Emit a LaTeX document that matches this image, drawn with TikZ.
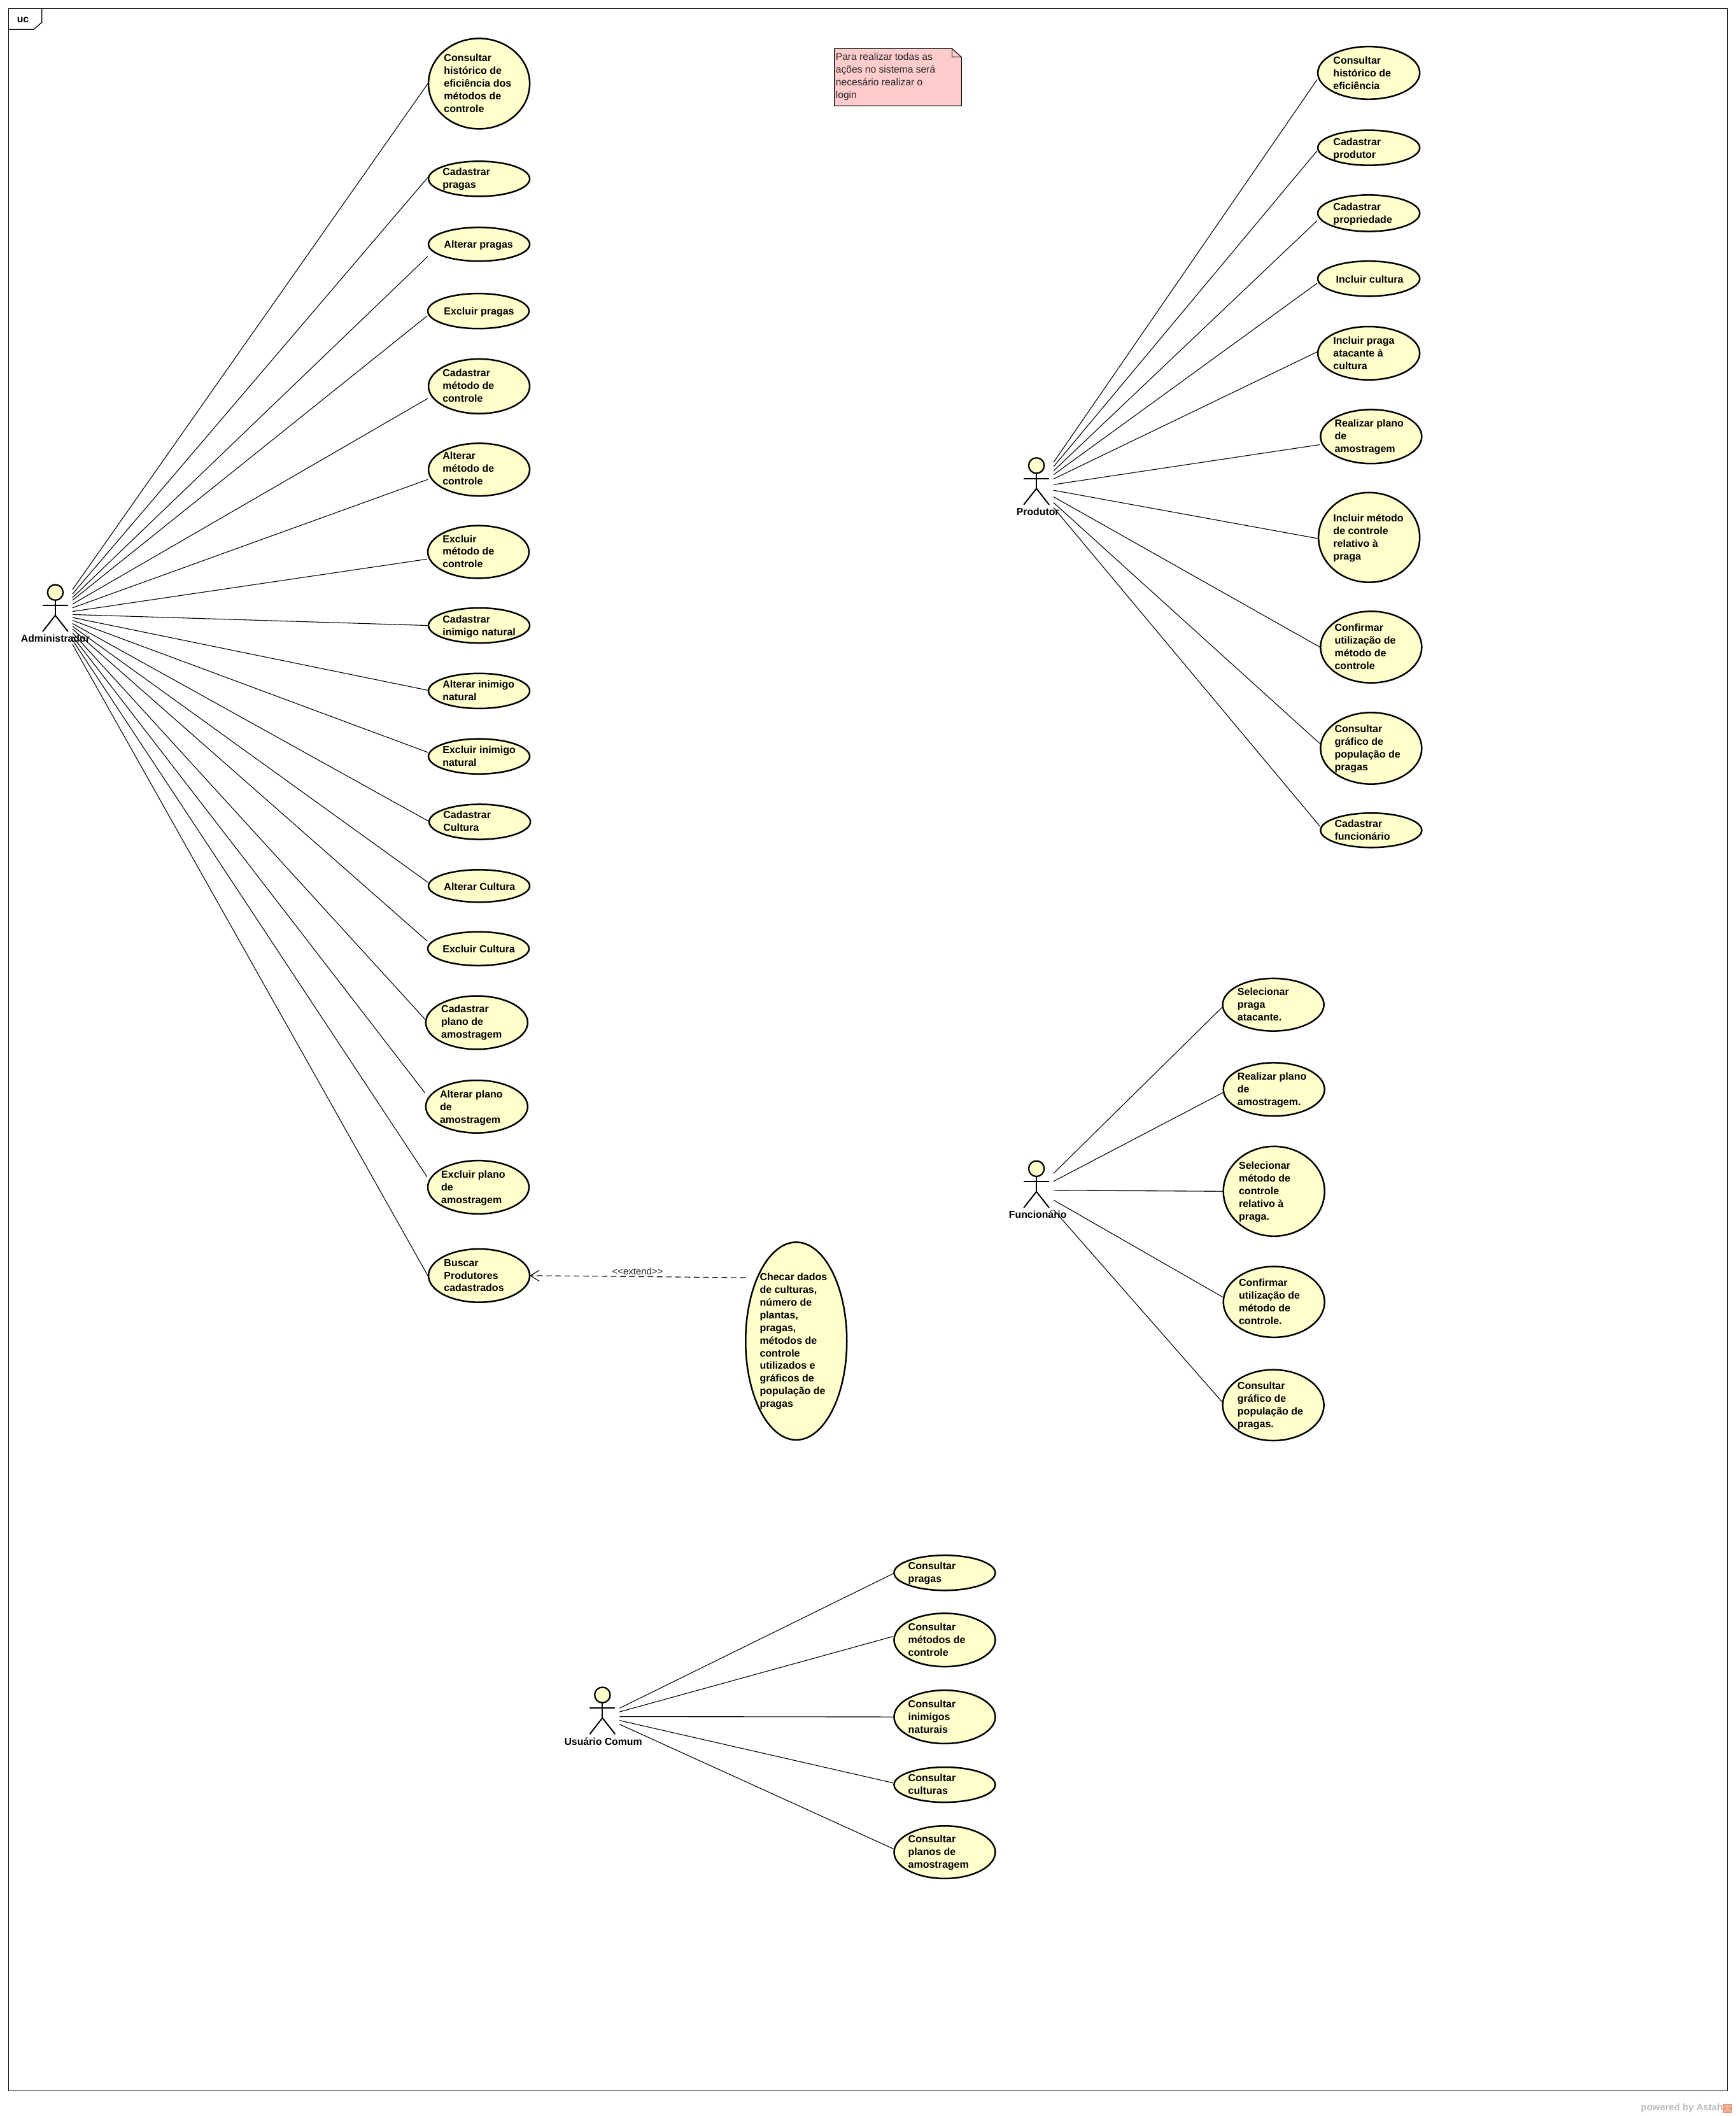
\documentclass[tikz,border=0pt]{standalone}
\usepackage{fontspec}
\setmainfont{Liberation Sans}
\usetikzlibrary{shapes.geometric,calc,arrows.meta}
\definecolor{ucfill}{HTML}{FFFFCC}
\definecolor{notefill}{HTML}{FFCCCC}
\definecolor{wmgray}{HTML}{BDBDBD}
\definecolor{wmicon}{HTML}{EE9A7C}
\tikzset{
  usecase/.style={ellipse,draw=black,fill=ucfill,line width=0.05cm,inner sep=0pt,outer sep=0pt},
  uctext/.style={anchor=west,align=left,inner sep=0pt,outer sep=0pt,text=black,
    font=\fontsize{9.1}{11.35}\selectfont\bfseries,
    execute at begin node={\strut},execute at end node={\strut}},
  actorname/.style={inner sep=0pt,outer sep=0pt,font=\fontsize{9}{11}\selectfont\bfseries},
  actorbox/.style={rectangle,draw=none,fill=none,minimum width=25.4*0.0424cm,minimum height=50*0.0424cm,inner sep=0pt,outer sep=0pt},
  actorhead/.style={circle,draw=black,fill=ucfill,line width=0.045cm,minimum size=11.5*0.0424cm,inner sep=0pt,outer sep=0pt},
  limb/.style={draw=black,line width=0.04cm},
  assoc/.style={draw=black,line width=0.022cm},
  extendline/.style={draw=black,line width=0.022cm,dash pattern=on 0.18cm off 0.11cm},
  notebody/.style={draw=black,fill=notefill,line width=0.022cm},
  notetext/.style={anchor=west,align=left,inner sep=0pt,outer sep=0pt,text=black!85,
    font=\fontsize{8.9}{11.35}\selectfont,execute at begin node={\strut},execute at end node={\strut}},
  frameline/.style={draw=black,line width=0.026cm},
}
% name, x1, x2, y1, y2, text x, text y, text
\newcommand{\ucase}[8]{%
  \node[usecase,minimum width={(#3-#2-1)*0.0424cm},minimum height={(#5-#4-1)*0.0424cm}] (#1) at ({(#2+#3)/2},{(#4+#5)/2}) {};
  \node[uctext] (#1t) at (#6,{#7+1}) {#8};
}
% name, centre x, head y, label x, label y, label
\newcommand{\ucactor}[6]{%
  \node[actorbox] (#1) at (#2,{#3+16}) {};
  \draw[limb] ({#2-9.4},{#3+9.6}) -- ({#2+9.4},{#3+9.6});
  \draw[limb] (#2,{#3+5}) -- (#2,{#3+17});
  \draw[limb] ({#2-9.4},{#3+29}) -- (#2,{#3+17}) -- ({#2+9.4},{#3+29});
  \node[actorhead] (#1h) at (#2,#3) {};
  \node[actorname] (#1n) at (#4,#5) {#6};
}
\newcommand{\assoclink}[3]{\draw[assoc] (#1) -- ($(#2.west)+(-0.5,#3)$);}
\begin{document}
\begin{tikzpicture}[x=0.0424cm,y=-0.0424cm]
\useasboundingbox (0,0) rectangle (1286,1568);
\fill[white] (0,0) rectangle (1286,1568);
% frame
\draw[frameline] (6.3,6.5) rectangle (1280,1549.3);
\draw[frameline] (6.3,21.8) -- (24.9,21.8) -- (31,16.6) -- (31,6.5);
\node[actorname] (uclabel) at (17,15) {uc};
% note
\draw[notebody] (618.3,36) -- (705.5,36) -- (712.5,42.4) -- (712.5,78.4) -- (618.3,78.4) -- cycle;
\draw[notebody,fill=none] (705.5,36) -- (705.5,42.4) -- (712.5,42.4);
\node[notetext] (note) at (619.3,57.6) {Para realizar todas as\\ações no sistema será\\necesário realizar o\\login};
% Administrador cases
\ucase{a1}{317}{393}{28}{96}{329}{62}{Consultar\\histórico de\\eficiência dos\\métodos de\\controle}
\ucase{a2}{317}{393}{119}{146}{328}{132.5}{Cadastrar\\pragas}
\ucase{a3}{317}{393}{168}{194}{329}{181}{Alterar pragas}
\ucase{a4}{316.5}{392.5}{217}{244}{329}{230.5}{Excluir pragas}
\ucase{a5}{317}{393}{265.5}{307}{328}{286}{Cadastrar\\método de\\controle}
\ucase{a6}{317}{393}{328}{368}{328}{347.5}{Alterar\\método de\\controle}
\ucase{a7}{316.5}{392.5}{389}{429}{328}{409}{Excluir\\método de\\controle}
\ucase{a8}{317}{393}{450}{477}{328}{464}{Cadastrar\\inimigo natural}
\ucase{a9}{317}{393}{498.5}{525.5}{328}{512}{Alterar inimigo\\natural}
\ucase{a10}{317}{393}{547}{574}{328}{560.5}{Excluir inimigo\\natural}
\ucase{a11}{317.5}{393.5}{595.5}{622.5}{328.5}{609}{Cadastrar\\Cultura}
\ucase{a12}{317}{393}{644}{669}{329}{657}{Alterar Cultura}
\ucase{a13}{316.5}{392.5}{690}{716}{328}{703}{Excluir Cultura}
\ucase{a14}{315}{391.5}{737.5}{778}{327}{757.5}{Cadastrar\\plano de\\amostragem}
\ucase{a15}{315}{391.5}{800}{840}{326}{820.5}{Alterar plano\\de\\amostragem}
\ucase{a16}{316.5}{392.5}{859.5}{900}{327}{880}{Excluir plano\\de\\amostragem}
\ucase{a17}{317}{393}{925}{965.5}{329}{945.5}{Buscar\\Produtores\\cadastrados}
\ucase{c}{552}{628}{920}{1067.5}{563}{993.5}{Checar dados\\de culturas,\\número de\\plantas,\\pragas,\\métodos de\\controle\\utilizados e\\gráficos de\\população de\\pragas}
% Produtor cases
\ucase{p1}{976}{1052.5}{34}{74}{988}{54.5}{Consultar\\histórico de\\eficiência}
\ucase{p2}{976}{1052.5}{96}{123}{988}{110}{Cadastrar\\produtor}
\ucase{p3}{976}{1052.5}{144}{172}{988}{158.5}{Cadastrar\\propriedade}
\ucase{p4}{976}{1052.5}{193}{220}{990}{207}{Incluir cultura}
\ucase{p5}{976}{1052.5}{241.5}{282}{988}{262}{Incluir praga\\atacante à\\cultura}
\ucase{p6}{978}{1054}{303}{344}{989}{323.5}{Realizar plano\\de\\amostragem}
\ucase{p7}{976.5}{1052.5}{364.5}{432}{988}{398.5}{Incluir método\\de controle\\relativo à\\praga}
\ucase{p8}{978}{1054}{452.5}{506.5}{989}{479.5}{Confirmar\\utilização de\\método de\\controle}
\ucase{p9}{978}{1054}{527.5}{581.5}{989}{554.5}{Consultar\\gráfico de\\população de\\pragas}
\ucase{p10}{978}{1054}{602}{628.5}{989}{615.5}{Cadastrar\\funcionário}
% Funcionario cases
\ucase{f1}{905.5}{981.5}{724.5}{764.5}{917}{744.5}{Selecionar\\praga\\atacante.}
\ucase{f2}{906}{982}{787}{827.5}{917}{807.5}{Realizar plano\\de\\amostragem.}
\ucase{f3}{906}{982}{849}{916.5}{918}{883}{Selecionar\\método de\\controle\\relativo à\\praga.}
\ucase{f4}{906}{982}{938}{991.5}{918}{965}{Confirmar\\utilização de\\método de\\controle.}
\ucase{f5}{905.5}{981.5}{1014.5}{1068}{917}{1041.5}{Consultar\\gráfico de\\população de\\pragas.}
% Usuario cases
\ucase{u1}{662}{738}{1152}{1179}{673}{1165.5}{Consultar\\pragas}
\ucase{u2}{662}{738}{1195}{1235.5}{673}{1215.5}{Consultar\\métodos de\\controle}
\ucase{u3}{662}{738}{1252}{1292.5}{673}{1272.5}{Consultar\\inimigos\\naturais}
\ucase{u4}{662}{738}{1309}{1336}{673}{1322.5}{Consultar\\culturas}
\ucase{u5}{662}{738}{1352.5}{1392.5}{673}{1372.5}{Consultar\\planos de\\amostragem}
% actors
\ucactor{adm}{41}{439}{41}{473}{Administrador}
\ucactor{pro}{768}{345}{769}{379}{Produtor}
\ucactor{fun}{768}{866}{769}{900}{Funcionário}
\ucactor{usu}{446.4}{1256}{447}{1290.5}{Usuário Comum}
% associations
\assoclink{adm}{a1}{0}
\assoclink{adm}{a2}{-1}
\assoclink{adm}{a3}{9}
\assoclink{adm}{a4}{3.6}
\assoclink{adm}{a5}{9}
\assoclink{adm}{a6}{7.3}
\assoclink{adm}{a7}{5.3}
\assoclink{adm}{a8}{0}
\assoclink{adm}{a9}{-0.5}
\assoclink{adm}{a10}{-3}
\assoclink{adm}{a11}{-0.5}
\assoclink{adm}{a12}{-2.7}
\assoclink{adm}{a13}{-5.7}
\assoclink{adm}{a14}{-2.4}
\assoclink{adm}{a15}{-10}
\assoclink{adm}{a16}{-7.6}
\assoclink{adm}{a17}{0}
\assoclink{pro}{p1}{5}
\assoclink{pro}{p2}{2.2}
\assoclink{pro}{p3}{5.5}
\assoclink{pro}{p4}{3.4}
\assoclink{pro}{p5}{-1}
\assoclink{pro}{p6}{6}
\assoclink{pro}{p7}{0.8}
\assoclink{pro}{p8}{0}
\assoclink{pro}{p9}{-3.5}
\assoclink{pro}{p10}{-3}
\assoclink{fun}{f1}{2}
\assoclink{fun}{f2}{2.5}
\assoclink{fun}{f3}{0}
\assoclink{fun}{f4}{-3.6}
\assoclink{fun}{f5}{-2.5}
\assoclink{usu}{u1}{0.5}
\assoclink{usu}{u2}{-2.7}
\assoclink{usu}{u3}{0}
\assoclink{usu}{u4}{-1.3}
\assoclink{usu}{u5}{-2.5}
% extend
\draw[extendline,-{Straight Barb[length=0.28cm,width=0.34cm,line width=0.022cm]}] ($(c.west)+(0,-47)$) -- (a17.east);
\node[inner sep=0pt,outer sep=0pt,text=black!85,font=\fontsize{8.5}{10}\selectfont] (extlabel) at (472.4,942.3) {{<}{<}extend{>}{>}};
% watermark
\node[anchor=east,inner sep=0pt,outer sep=0pt,text=wmgray,font=\fontsize{8.5}{10}\selectfont\bfseries] (wm) at (1276.6,1562) {powered by Astah};
\node[rectangle,fill=wmicon,minimum width=6.8*0.0424cm,minimum height=6.5*0.0424cm,inner sep=0pt,outer sep=0pt] (wmi) at (1280,1562.3) {};
\draw[white,line width=0.012cm] (1277.5,1561) -- (1282.5,1561) (1278,1565) -- (1280,1562.5) -- (1282.5,1565);
\end{tikzpicture}
\end{document}
